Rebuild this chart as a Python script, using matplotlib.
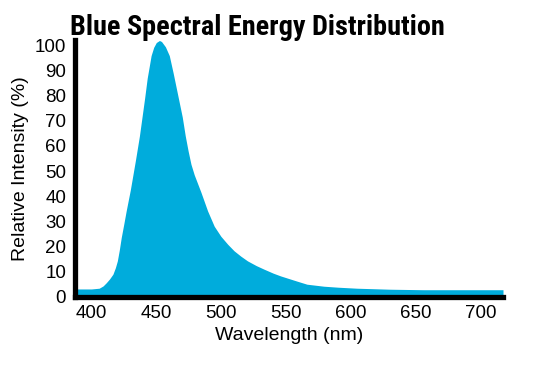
import matplotlib.pyplot as plt

# values
wavelength = [387, 400, 406, 409, 411.5, 414, 416.6, 418.5, 420, 421.5, 423, 425, 426.8,
              430, 432, 434, 437, 441, 443, 446, 448, 450, 452.4, 454, 457, 460, 463,
              467, 470, 472.3, 474.5, 476.7, 479.2, 484.4, 489.5, 494.6, 499.7, 505, 509.9,
              515, 520.2, 527, 532.9, 540, 545.7, 553, 558.5, 566, 579, 590, 604.5,
              630, 655.6, 717]
intensity = [3.0, 3.0, 3.3, 4.2, 5.5, 7.0, 8.9, 11.5, 14.2, 18.5, 23.5, 29.0, 34.1,
             42.5, 48.5, 54.5, 64.0, 79.0, 87.0, 96.0, 99.3, 101.2, 102.0, 101.6, 99.5,
             96.0, 89.0, 79.0, 71.5, 64.0, 58.0, 52.7, 48.5, 41.5, 34.1, 28.0, 24.0,
             20.8, 18.2, 16.1, 14.2, 12.3, 10.9, 9.3, 8.2, 7.0, 6.1, 4.9, 4.1, 3.7, 3.3,
             2.9, 2.7, 2.7]
xticks = [400, 450, 500, 550, 600, 650, 700]
yticks = list(range(0, 101, 10))

sans = ["Liberation Sans", "DejaVu Sans"]
plt.rcParams["font.family"] = sans

fig = plt.figure(figsize=(5.34, 3.70), dpi=100)
ax = fig.add_axes([74.5 / 534, 1 - 296.5 / 370, (503 - 74.5) / 534, (296.5 - 40) / 370])

ax.fill_between(wavelength, intensity, 0, color="#00acdc", lw=0)

ax.set_xlim(387, 717)
ax.set_ylim(0, 102.2)
ax.set_xticks(xticks)
ax.set_yticks(yticks)
ax.tick_params(length=0, labelsize=13.5, pad=6)
for s in ["top", "right"]:
    ax.spines[s].set_visible(False)
for s in ["left", "bottom"]:
    ax.spines[s].set_linewidth(3.8)
    ax.spines[s].set_capstyle("projecting")

ax.set_xlabel("Wavelength (nm)", fontsize=14, labelpad=4)
ax.set_ylabel("Relative Intensity (%)", fontsize=14, labelpad=4)

fig.text(70 / 534, 1 - 35 / 370, "Blue Spectral Energy Distribution",
         fontsize=20.3, fontweight="black",
         family=["Roboto Condensed", "Archivo Narrow", "Barlow Condensed", "DejaVu Sans"],
         va="baseline", ha="left")

fig.savefig("out.png", dpi=100)
